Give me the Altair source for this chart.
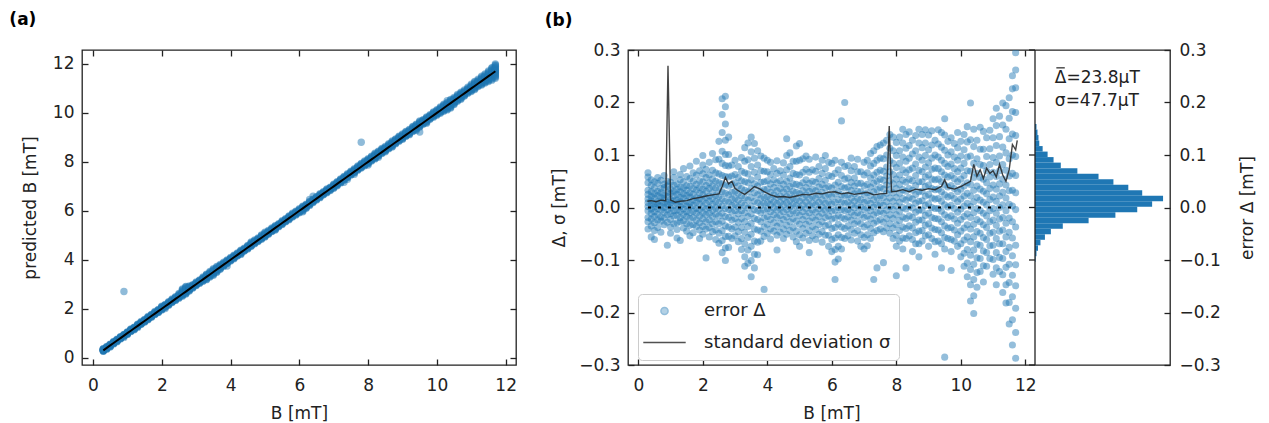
import altair as alt
import pandas as pd

FONT = "DejaVu Sans"
FS = 17
BLUE = "#1f77b4"
INK = "#222222"

# ---------------- data ----------------
# error Delta [uT] of the measured points, grouped by true field B [mT]
error_by_B = {
    0.3: [-41, -27, -19, -6, 2, 9, 16, 25, 33, 47, 58, 66],
    0.4: [-35, -22, -11, -3, 5, 13, 21, 30, 42, 53, -56],
    0.5: [-29, -17, -8, 1, 7, 18, 26, 37, 49, -44, -61],
    0.6: [-38, -24, -13, -2, 6, 11, 23, 31, 46, 57],
    0.7: [-26, -18, -5, 3, 12, 19, 28, 36, 52, -47],
    0.8: [-33, -20, -9, 0, 8, 17, 24, 38, 44, 61],
    0.9: [-28, -14, -4, 6, 10, 21, 29, 41, 50, -72, 1800],
    1.0: [-37, -23, -12, -1, 9, 15, 27, 35, 48, -49],
    1.1: [-31, -16, -6, 4, 13, 22, 31, 43, 57, 68],
    1.2: [-42, -29, -15, -5, 7, 14, 25, 34, 45, -58],
    1.3: [-27, -19, -7, 2, 11, 19, 30, 39, 53, 63, -63],
    1.4: [-39, -25, -13, -3, 6, 18, 26, 37, 49, 74],
    1.5: [-45, -31, -17, -8, 3, 12, 23, 33, 42, 59],
    1.6: [-34, -21, -10, 1, 9, 20, 28, 41, 55, 79, -54],
    1.7: [-48, -33, -19, -7, 4, 14, 25, 36, 50, 66],
    1.8: [-36, -24, -11, -2, 10, 19, 33, 44, 62, 88],
    1.9: [-43, -29, -16, -4, 7, 17, 27, 38, 51, 70, -59],
    2.0: [-51, -36, -22, -10, 1, 13, 24, 35, 49, 64, 81, 99],
    2.1: [-41, -27, -14, -3, 8, 19, 31, 42, 57, 73, -96],
    2.2: [-56, -38, -24, -11, 0, 12, 22, 36, 47, 62, 86],
    2.3: [-46, -31, -17, -5, 6, 17, 29, 41, 54, 71, 103],
    2.4: [-61, -43, -27, -13, -1, 11, 23, 37, 50, 66, 91],
    2.5: [-68, -49, -31, -16, -3, 9, 21, 34, 47, 64, 92, 126],
    2.6: [-86, -63, -44, -26, -11, 3, 16, 30, 45, 61, 84, 107, 143, 177, 207],
    2.7: [-101, -77, -55, -35, -17, -2, 12, 27, 43, 59, 80, 101, 128, 159, 192, 212],
    2.8: [-76, -55, -37, -19, -4, 10, 24, 41, 58, 79, 101, 134],
    2.9: [-59, -41, -24, -9, 4, 16, 29, 44, 60, 81],
    3.0: [-54, -37, -21, -6, 6, 18, 31, 47, 63, 90],
    3.1: [-65, -46, -28, -12, 1, 14, 27, 41, 57, 78],
    3.2: [-80, -59, -38, -21, -6, 8, 22, 36, 51, 69, 95],
    3.3: [-112, -94, -69, -47, -27, -10, 4, 18, 33, 49, 66, 88, 114],
    3.4: [-106, -81, -57, -36, -17, -1, 14, 30, 47, 64, 91, 123],
    3.5: [-132, -101, -74, -51, -30, -12, 3, 19, 36, 53, 78, 106, 134],
    3.6: [-115, -89, -64, -41, -21, -4, 12, 28, 45, 67, 94, 122],
    3.7: [-90, -66, -43, -23, -6, 9, 24, 41, 58, 81, 108],
    3.8: [-64, -45, -27, -10, 4, 17, 31, 48, 70, 98],
    3.9: [-55, -37, -20, -5, 8, 20, 34, 49, 69, 94, -156],
    4.0: [-49, -32, -17, -3, 9, 21, 35, 51, 68, 90],
    4.1: [-60, -41, -23, -8, 5, 16, 29, 45, 63, 86],
    4.2: [-45, -29, -14, -1, 11, 24, 38, 53, 74],
    4.3: [-53, -36, -19, -5, 7, 19, 32, 47, 65, 89, -81],
    4.4: [-47, -30, -15, -2, 10, 22, 36, 51, 70],
    4.5: [-59, -41, -23, -8, 5, 17, 30, 44, 62, 85],
    4.6: [-51, -34, -18, -4, 9, 21, 35, 50, 72, 99, 131],
    4.7: [-44, -27, -12, 1, 13, 26, 40, 56, 78, 104],
    4.8: [-56, -38, -21, -7, 6, 18, 31, 45, 65, 88],
    4.9: [-65, -45, -26, -10, 4, 16, 29, 44, 63, 88, 117],
    5.0: [-74, -52, -32, -15, -1, 12, 26, 42, 62, 90, 122],
    5.1: [-58, -40, -23, -8, 5, 18, 32, 47, 67, 93],
    5.2: [-49, -32, -16, -2, 11, 24, 38, 53, 73, 98],
    5.3: [-63, -44, -26, -10, 4, 17, 31, 46, 67, 92, -86],
    5.4: [-54, -36, -19, -5, 8, 21, 35, 50, 72],
    5.5: [-61, -42, -24, -9, 5, 18, 32, 48, 69, 96],
    5.6: [-51, -33, -17, -3, 10, 24, 39, 55, 78],
    5.7: [-66, -46, -27, -11, 2, 15, 29, 44, 65, 90],
    5.8: [-53, -35, -19, -5, 8, 22, 37, 52, 74, 99],
    5.9: [-74, -53, -33, -16, -2, 11, 25, 40, 61, 86],
    6.0: [-84, -61, -40, -22, -7, 7, 21, 37, 59, 84],
    6.1: [-104, -80, -58, -38, -20, -5, 10, 26, 43, 65, 90, -137],
    6.2: [-98, -74, -52, -32, -15, 0, 15, 31, 48, 72],
    6.3: [-79, -57, -37, -19, -4, 10, 24, 40, 61, 86, 165],
    6.4: [-59, -40, -22, -6, 8, 22, 37, 54, 78, 200],
    6.5: [-54, -35, -18, -4, 10, 24, 39, 56, 80],
    6.6: [-62, -42, -24, -9, 5, 18, 33, 48, 70, 94],
    6.7: [-49, -31, -15, -1, 12, 26, 41, 56, 78],
    6.8: [-64, -44, -26, -10, 4, 17, 31, 46, 68, 92],
    6.9: [-74, -52, -31, -14, 1, 15, 30, 46, 68],
    7.0: [-79, -57, -37, -19, -4, 10, 25, 41, 62, 86],
    7.1: [-73, -52, -33, -16, -1, 13, 28, 44, 66, 90],
    7.2: [-59, -40, -22, -6, 8, 23, 39, 56, 79, 103],
    7.3: [-48, -30, -14, 1, 15, 30, 46, 62, 84, 108, -137],
    7.4: [-44, -26, -10, 5, 19, 34, 50, 67, 90, 116, -115],
    7.5: [-41, -23, -7, 8, 22, 38, 54, 71, 94, 119],
    7.6: [-46, -28, -11, 4, 19, 35, 52, 69, 93, 123, -105],
    7.7: [-39, -21, -5, 11, 27, 43, 60, 77, 100, 128],
    7.8: [-49, -31, -14, 2, 18, 34, 51, 68, 89, 113, 139, 1000],
    7.9: [-59, -39, -21, -4, 12, 28, 45, 63, 84, 108, 134],
    8.0: [-74, -53, -33, -14, 3, 19, 36, 54, 76, 99, 124, -130],
    8.1: [-64, -44, -25, -7, 10, 27, 44, 62, 84, 108, 134],
    8.2: [-79, -58, -37, -18, 0, 17, 34, 52, 72, 96, 123, 149],
    8.3: [-59, -40, -21, -3, 14, 31, 48, 66, 88, 113, 139, -115],
    8.4: [-54, -35, -16, 2, 19, 36, 54, 72, 94, 118, 144],
    8.5: [-84, -61, -39, -19, -1, 16, 33, 51, 75, 102, 128],
    8.6: [-69, -48, -28, -9, 8, 25, 42, 61, 83, 108, 137],
    8.7: [-94, -69, -45, -24, -5, 12, 30, 49, 71, 96, 123, 149],
    8.8: [-64, -44, -24, -5, 13, 31, 49, 68, 90, 114, 139],
    8.9: [-54, -34, -15, 4, 22, 40, 58, 77, 99, 123, 148],
    9.0: [-74, -52, -31, -11, 7, 25, 43, 62, 85, 110, 138],
    9.1: [-59, -39, -19, 0, 18, 36, 54, 73, 94, 119, 146],
    9.2: [-89, -65, -42, -21, -2, 16, 34, 53, 75, 100, 128],
    9.3: [-64, -43, -22, -2, 17, 35, 54, 74, 96, 121, 148],
    9.4: [-69, -48, -27, -7, 12, 30, 49, 68, 90, 115, 143, -115],
    9.5: [-79, -57, -35, -14, 5, 24, 43, 62, 84, 109, 138, 169, -285],
    9.6: [-59, -39, -19, 1, 20, 39, 58, 78, 100, 126],
    9.7: [-84, -61, -38, -16, 4, 23, 42, 61, 83, 106, 133, -120],
    9.8: [-64, -43, -22, -2, 17, 36, 55, 74, 96, 122],
    9.9: [-74, -52, -30, -9, 11, 30, 49, 68, 90, 114, 143],
    10.0: [-94, -69, -45, -23, -3, 16, 35, 54, 75, 98, 126],
    10.1: [-112, -87, -62, -39, -17, 3, 22, 41, 61, 84, 110, 139],
    10.2: [-132, -106, -80, -56, -33, -12, 8, 27, 47, 70, 96, 125, 154],
    10.3: [-178, -147, -118, -91, -65, -41, -19, 2, 22, 44, 69, 98, 129, 199],
    10.4: [-202, -168, -137, -108, -81, -56, -32, -10, 11, 33, 57, 84, 116, 149],
    10.5: [-152, -124, -96, -70, -46, -23, -2, 19, 41, 65, 93, 128],
    10.6: [-122, -97, -72, -49, -27, -6, 14, 35, 57, 82, 111, 153],
    10.7: [-142, -111, -83, -57, -33, -11, 10, 31, 54, 80, 111, 145],
    10.8: [-112, -86, -61, -38, -16, 5, 26, 47, 70, 97, 133],
    10.9: [-97, -73, -49, -27, -6, 15, 36, 58, 82, 112, 147],
    11.0: [-127, -99, -72, -47, -24, -2, 20, 43, 67, 95, 133, 169],
    11.1: [-147, -115, -86, -59, -34, -11, 12, 35, 59, 86, 118, 156, 189],
    11.2: [-122, -95, -69, -45, -22, 0, 22, 45, 70, 98, 135, 174],
    11.3: [-162, -128, -97, -69, -43, -19, 5, 29, 54, 82, 115, 157, 199],
    11.4: [-182, -147, -114, -84, -56, -30, -6, 18, 43, 71, 104, 149, 194],
    11.5: [-222, -181, -143, -108, -76, -47, -20, 6, 32, 60, 93, 131, 170, 209],
    11.6: [-262, -214, -170, -129, -92, -58, -27, 3, 33, 65, 100, 140, 183, 226, 251],
    11.7: [-287, -238, -192, -149, -109, -72, -37, -4, 28, 61, 97, 137, 181, 228, 262, 295],
}

# running standard deviation sigma [mT]
sd_B = [0.28, 0.4, 0.55, 0.7, 0.85, 0.92, 1.0, 1.15, 1.3, 1.5, 1.7, 1.9, 2.1,
        2.3, 2.5, 2.6, 2.7, 2.8, 2.9, 3.0, 3.15, 3.3, 3.45, 3.6, 3.75, 3.9,
        4.1, 4.3, 4.5, 4.7, 4.9, 5.1, 5.3, 5.5, 5.7, 5.9, 6.1, 6.3, 6.5, 6.7,
        6.9, 7.1, 7.3, 7.5, 7.7, 7.78, 7.85, 8.0, 8.2, 8.4, 8.6, 8.8, 9.0,
        9.2, 9.4, 9.5, 9.6, 9.8, 10.0, 10.15, 10.3, 10.4, 10.5, 10.6, 10.7,
        10.8, 10.9, 11.0, 11.1, 11.2, 11.3, 11.4, 11.5, 11.6, 11.7, 11.75]
sd_val = [0.012, 0.013, 0.011, 0.014, 0.013, 0.270, 0.014, 0.010, 0.012,
          0.013, 0.017, 0.019, 0.022, 0.024, 0.026, 0.040, 0.057, 0.045,
          0.050, 0.036, 0.030, 0.025, 0.032, 0.040, 0.036, 0.030, 0.024,
          0.020, 0.021, 0.019, 0.022, 0.025, 0.024, 0.027, 0.026, 0.029,
          0.030, 0.026, 0.028, 0.025, 0.027, 0.029, 0.024, 0.026, 0.027,
          0.155, 0.030, 0.031, 0.034, 0.030, 0.035, 0.033, 0.036, 0.034,
          0.040, 0.053, 0.038, 0.035, 0.040, 0.045, 0.050, 0.082, 0.060,
          0.072, 0.055, 0.075, 0.065, 0.070, 0.058, 0.082, 0.062, 0.050,
          0.072, 0.120, 0.110, 0.128]

# histogram of the error: bin edges [mT] and counts
hist_lo = [-0.1035, -0.093, -0.0825, -0.072, -0.0615, -0.051, -0.0405, -0.030,
           -0.0195, -0.009, 0.0015, 0.012, 0.0225, 0.033, 0.0435, 0.054,
           0.0645, 0.075, 0.0855, 0.096, 0.1065, 0.117, 0.1275, 0.138, 0.1485]
hist_hi = [-0.093, -0.0825, -0.072, -0.0615, -0.051, -0.0405, -0.030, -0.0195,
           -0.009, 0.0015, 0.012, 0.0225, 0.033, 0.0435, 0.054, 0.0645,
           0.075, 0.0855, 0.096, 0.1065, 0.117, 0.1275, 0.138, 0.1485, 0.159]
hist_n = [7, 15, 30, 55, 100, 160, 280, 540, 810, 1030, 1180, 1290, 1080,
          940, 790, 640, 427, 260, 187, 127, 77, 43, 35, 25, 15]

stats_text = ["Δ=23.8μT", "σ=47.7μT"]
stats_y = [0.247, 0.203]
stats_x = [200, 200]
# the bar over the mean symbol Δ (hist count units / mT)
mean_bar_x = [215]
mean_bar_x2 = [300]
mean_bar_y = [0.266]

LAB_ERR = "error Δ"
LAB_SD = "standard deviation σ"

XT = [0, 2, 4, 6, 8, 10, 12]
YT_A = [0, 2, 4, 6, 8, 10, 12]
YT_B = [-0.3, -0.2, -0.1, 0.0, 0.1, 0.2, 0.3]

# ---------------- tables ----------------
rows = []
for b, errs in error_by_B.items():
    for e in errs:
        rows.append({"B": b, "delta": e / 1000.0, "pred": b + e / 1000.0,
                     "series": LAB_ERR})
pts = pd.DataFrame(rows)
sd_df = pd.DataFrame({"B": sd_B, "sd": sd_val})
zero_df = pd.DataFrame({"B": [pts.B.min(), pts.B.max()], "y": [0.0, 0.0]})
hist_df = pd.DataFrame({"lo": hist_lo, "hi": hist_hi, "n": hist_n})
stats_df = pd.DataFrame({"t": stats_text, "y": stats_y, "x": stats_x})
bar_df = pd.DataFrame({"x": mean_bar_x, "x2": mean_bar_x2, "y": mean_bar_y})
yt_df = pd.DataFrame({"y": YT_B})


def axis(orient, title=None, labels=True, values=None, fmt=None, angle=None,
         lpad=8, tpad=4):
    kw = dict(orient=orient, labels=labels, ticks=True, tickSize=6,
              tickWidth=1.3, tickColor=INK, offset=-6, domain=False,
              grid=False, labelPadding=lpad, labelFont=FONT, labelFontSize=FS,
              labelColor=INK, labelFlush=False, labelOverlap=False,
              titleFont=FONT, titleFontSize=FS, titleFontWeight="normal",
              titleColor=INK, titlePadding=tpad, title=title)
    if values is not None:
        kw["values"] = values
    if fmt is not None:
        kw["format"] = fmt
    if angle is not None:
        kw["titleAngle"] = angle
    return alt.Axis(**kw)


W_B, W_H, H = 407, 135, 315

xs = alt.Scale(domain=[-0.32, 12.3], nice=False, zero=False)
ys_a = alt.Scale(domain=[-0.3, 12.57], nice=False, zero=False)
# panel (b) scatter and histogram share one frame; each has its own x range
xs_b = alt.Scale(domain=[-0.32, 12.3], nice=False, zero=False, range=[0, W_B])
xs_h = alt.Scale(domain=[0, 1360], nice=False, zero=False, range=[W_B, W_B + W_H])
ys_b = alt.Scale(domain=[-0.3, 0.3], nice=False, zero=False)

# ---------------- panel (a) ----------------
a_pts = alt.Chart(pts).mark_circle(size=55, opacity=0.5, color=BLUE).encode(
    x=alt.X("B:Q", scale=xs,
            axis=axis("bottom", "B [mT]", values=XT, fmt="d", lpad=12, tpad=12)),
    y=alt.Y("pred:Q", scale=ys_a,
            axis=axis("left", "predicted B [mT]", values=YT_A, fmt="d", tpad=13)),
)
a_fit = alt.Chart(pts).mark_line(color="black", strokeWidth=2).encode(
    x=alt.X("B:Q", scale=xs, axis=axis("top", labels=False, values=XT)),
    y=alt.Y("B:Q", scale=ys_a, axis=axis("right", labels=False, values=YT_A)),
)
panel_a = alt.layer(a_pts, a_fit).resolve_scale(
    x="independent", y="independent"
).properties(
    width=434, height=H,
    title=alt.TitleParams("(a)", anchor="start", font=FONT, fontSize=FS,
                          fontWeight="bold", color="black", offset=20, dx=-12),
)

# ---------------- panel (b) + histogram ----------------
dom = [LAB_ERR, LAB_SD]
b_pts = alt.Chart(pts).mark_point(filled=True, clip=True, strokeWidth=0).encode(
    x=alt.X("B:Q", scale=xs_b,
            axis=axis("bottom", "B [mT]", values=XT, fmt="d", lpad=12, tpad=12)),
    y=alt.Y("delta:Q", scale=ys_b,
            axis=axis("left", "Δ, σ [mT]", values=YT_B, fmt=".1f", tpad=10)),
    fill=alt.Fill("series:N", scale=alt.Scale(domain=dom, range=[BLUE, "#333333"]),
                  legend=alt.Legend(title=None, orient="none", legendX=10,
                                    legendY=244, fillColor="white",
                                    strokeColor="#cccccc", padding=8,
                                    cornerRadius=4, labelFont=FONT,
                                    labelFontSize=FS + 1, labelColor=INK,
                                    labelLimit=400, symbolStrokeWidth=1.6,
                                    symbolOffset=7, rowPadding=11,
                                    labelOffset=28)),
    stroke=alt.Stroke("series:N", scale=alt.Scale(domain=dom, range=[BLUE, "#333333"])),
    shape=alt.Shape("series:N",
                    scale=alt.Scale(domain=dom, range=["circle", "M-2,0L2,0"])),
    size=alt.Size("series:N", scale=alt.Scale(domain=dom, range=[50, 450])),
    opacity=alt.Opacity("series:N", scale=alt.Scale(domain=dom, range=[0.48, 0.85])),
)
b_sd = alt.Chart(sd_df).mark_line(color="#222222", strokeWidth=1.4, opacity=0.85,
                                  clip=True).encode(
    x=alt.X("B:Q", scale=xs_b, axis=None),
    y=alt.Y("sd:Q", scale=ys_b, axis=None),
)
b_zero = alt.Chart(zero_df).mark_line(color="black", strokeWidth=2.2,
                                      strokeDash=[3, 7]).encode(
    x=alt.X("B:Q", scale=xs_b, axis=axis("top", labels=False, values=XT)),
    y=alt.Y("y:Q", scale=ys_b, axis=None),
)
h_bars = alt.Chart(hist_df).mark_rect(color=BLUE).encode(
    y=alt.Y("lo:Q", scale=ys_b,
            axis=axis("right", "error Δ [mT]", values=YT_B, fmt=".1f", angle=270,
                      lpad=9, tpad=36)),
    y2="hi:Q",
    x=alt.X("n:Q", scale=xs_h, axis=None),
    x2=alt.datum(0),
)
# frame line between scatter and histogram (count = 0) and the scatter's
# inward right-hand ticks
h_base = alt.Chart(hist_df).mark_rule(color=INK, strokeWidth=1.3).encode(
    x=alt.X("zero:Q", scale=xs_h, axis=None),
).transform_calculate(zero="0").transform_aggregate(zero="min(zero)")
b_rticks = alt.Chart(yt_df).mark_rule(color=INK, strokeWidth=1.3,
                                      x2Offset=-6).encode(
    x=alt.X("zero:Q", scale=xs_h, axis=None),
    x2="zero:Q",
    y=alt.Y("y:Q", scale=ys_b, axis=None),
).transform_calculate(zero="0")
h_text = alt.Chart(stats_df).mark_text(align="left", baseline="middle", font=FONT,
                                       fontSize=FS, color=INK).encode(
    x=alt.X("x:Q", scale=xs_h, axis=None),
    y=alt.Y("y:Q", scale=ys_b, axis=None),
    text="t:N",
)
h_bar = alt.Chart(bar_df).mark_rule(color=INK, strokeWidth=1.2).encode(
    x=alt.X("x:Q", scale=xs_h, axis=None),
    x2="x2:Q",
    y=alt.Y("y:Q", scale=ys_b, axis=None),
)

panel_b = alt.layer(
    b_pts, b_sd, b_zero, h_bars, h_base, b_rticks, h_text, h_bar
).resolve_scale(
    x="independent", y="independent"
).properties(
    width=W_B + W_H, height=H,
    title=alt.TitleParams("(b)", anchor="start", font=FONT, fontSize=FS,
                          fontWeight="bold", color="black", offset=11, dx=-6),
)

chart = alt.hconcat(panel_a, panel_b, spacing=26).resolve_scale(
    fill="independent", stroke="independent", shape="independent",
    size="independent", opacity="independent",
).properties(
    padding={"left": 0, "top": 2, "right": 2, "bottom": 0}
).configure_view(stroke=INK, strokeWidth=1.3)

chart.save("out.html", embed_options={"renderer": "svg", "actions": False})
